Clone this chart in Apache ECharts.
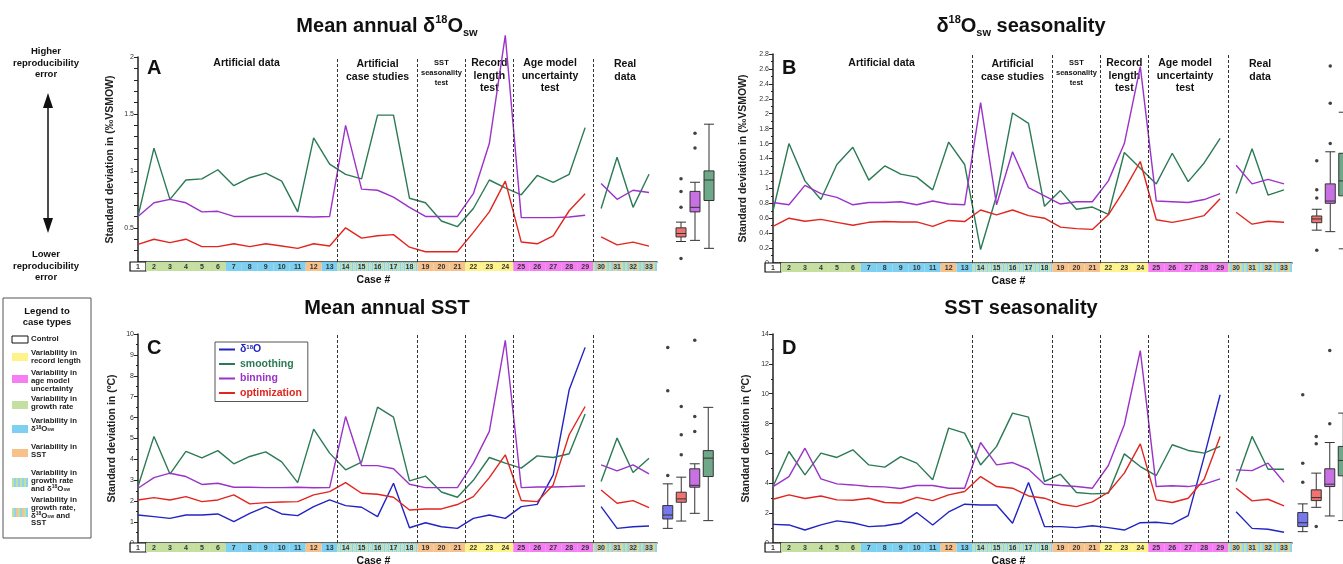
<!DOCTYPE html>
<html>
<head>
<meta charset="utf-8">
<script src="https://cdn.jsdelivr.net/npm/echarts@6/dist/echarts.min.js"></script>
<style>
  html, body { margin: 0; background: #fff; }
  #chart { width: 1343px; height: 564px; }
</style>
</head>
<body>
<div id="chart"></div>
<script>
// ---- data ----
const cases = [1,2,3,4,5,6,7,8,9,10,11,12,13,14,15,16,17,18,19,20,21,22,23,24,25,26,27,28,29,30,31,32,33];
// c control, g growth rate, b d18Osw, s SST, y record length, p age model, gb / gbs mixes
const caseTypes = ['c','g','g','g','g','g','b','b','b','b','b','s','b','gb','gb','gb','gb','gb','s','s','s','y','y','y','p','p','p','p','p','gbs','gbs','gbs','gbs'];
const dividers = [13.5, 18.5, 21.5, 24.5, 29.5];

// A: mean annual d18Osw
const aSmoothing = [0.60,1.20,0.75,0.92,0.93,1.01,0.87,0.94,0.98,0.91,0.64,1.29,1.06,0.97,0.93,1.49,1.49,0.76,0.72,0.56,0.51,0.67,0.92,0.85,0.79,0.96,0.90,0.97,1.38,0.67,1.12,0.68,0.97];
const aBinning = [0.60,0.72,0.75,0.72,0.64,0.645,0.60,0.60,0.60,0.60,0.60,0.595,0.60,1.40,0.84,0.83,0.77,0.68,0.60,0.60,0.60,0.80,1.24,2.19,0.59,0.59,0.59,0.595,0.61,0.89,0.75,0.83,0.81];
const aOptimization = [0.355,0.40,0.37,0.40,0.335,0.335,0.36,0.335,0.36,0.34,0.32,0.36,0.34,0.50,0.41,0.43,0.44,0.33,0.29,0.29,0.29,0.46,0.64,0.91,0.375,0.36,0.43,0.65,0.80,0.42,0.35,0.375,0.34];
// boxes: [low, q1, median, q3, high] in order optimization, binning, smoothing
const aBoxes = [[0.38,0.42,0.45,0.50,0.55],[0.39,0.64,0.68,0.82,0.90],[0.32,0.74,0.92,1.00,1.41]];
const aOutliers = [[0.93,0.82,0.68,0.23],[2.09,1.33,1.20],[]];

// B: d18Osw seasonality
const bSmoothing = [0.70,1.60,1.10,0.85,1.32,1.55,1.11,1.30,1.19,1.15,0.98,1.62,1.32,0.18,0.90,2.01,1.87,0.76,0.97,0.72,0.75,0.65,1.48,1.27,1.06,1.47,1.09,1.34,1.67,0.93,1.53,0.91,0.98];
const bBinning = [0.81,0.78,1.04,0.93,0.88,0.78,0.81,0.81,0.82,0.78,0.83,0.79,0.78,2.15,0.78,1.49,1.01,0.90,0.79,0.82,0.82,1.10,1.60,2.63,0.83,0.82,0.81,0.85,0.93,1.31,1.06,1.12,1.06];
const bOptimization = [0.49,0.60,0.56,0.585,0.545,0.505,0.545,0.555,0.55,0.55,0.49,0.57,0.555,0.71,0.645,0.71,0.635,0.60,0.48,0.46,0.45,0.645,0.98,1.36,0.58,0.545,0.585,0.635,0.86,0.68,0.52,0.56,0.545];
const bBoxes = [[0.44,0.54,0.59,0.63,0.72],[0.42,0.80,0.83,1.06,1.49],[0.19,0.90,1.10,1.47,2.02]];
const bOutliers = [[1.37,0.98,0.87,0.17],[2.64,2.14,1.60],[]];

// C: mean annual SST
const cD18O = [1.34,1.26,1.18,1.34,1.34,1.39,1.02,1.42,1.74,1.39,1.31,1.74,2.06,1.79,1.71,1.26,2.86,0.73,0.97,0.78,0.70,1.18,1.34,1.18,1.74,1.85,3.26,7.33,9.36,1.74,0.70,0.78,0.81];
const cSmoothing = [2.70,5.10,3.30,4.38,4.07,4.42,3.79,4.14,4.36,3.88,2.89,5.45,4.30,3.50,3.87,6.50,6.02,2.97,3.20,2.44,2.19,3.00,4.09,3.82,3.58,4.17,4.09,4.27,6.17,2.94,5.02,3.37,4.06];
const cBinning = [2.62,3.13,3.34,3.18,2.80,2.86,2.67,2.67,2.65,2.65,2.67,2.64,2.65,6.05,3.70,3.70,3.55,2.81,2.65,2.65,2.65,3.82,5.34,9.70,2.65,2.68,2.68,2.70,2.73,3.74,3.45,3.74,3.31];
const cOptimization = [2.06,2.17,2.06,2.22,1.98,2.06,2.30,1.87,1.93,1.96,1.98,2.30,2.46,2.89,2.38,2.33,2.19,1.58,1.63,1.63,1.84,2.22,3.13,4.22,2.03,1.98,2.78,5.18,6.53,2.54,1.90,2.03,1.69];
// order d18O, optimization, binning, smoothing
const cBoxes = [[0.70,1.15,1.34,1.79,2.83],[1.05,1.95,2.11,2.43,3.15],[1.42,2.67,2.76,3.55,3.79],[1.07,3.18,4.06,4.42,6.49]];
const cOutliers = [[3.23,7.28,9.36],[4.22,5.18,6.53],[5.34,6.05,9.70],[]];

// D: SST seasonality
const dD18O = [1.25,1.21,0.87,1.21,1.48,1.36,1.10,1.16,1.32,2.04,1.21,2.08,2.60,2.55,2.55,1.32,4.05,1.10,1.10,1.03,1.16,1.03,0.87,1.36,1.39,1.28,1.83,5.79,9.93,2.10,0.98,0.92,0.72];
const dSmoothing = [3.78,6.13,4.56,6.02,5.73,6.24,5.23,5.08,5.79,5.35,4.23,7.70,7.36,5.23,6.47,8.70,8.43,4.12,4.61,3.38,3.29,3.33,5.97,5.12,4.52,6.58,6.20,6.02,6.47,4.12,7.14,4.94,4.94];
const dBinning = [3.78,4.45,6.35,4.30,3.96,3.89,3.78,3.76,3.65,3.85,3.85,3.67,3.67,6.73,5.23,5.39,4.94,3.94,3.85,3.78,3.67,5.19,7.92,12.89,3.78,3.83,3.78,3.94,4.30,4.90,4.85,5.35,4.07];
const dOptimization = [2.93,3.22,2.98,3.15,2.89,2.86,3.00,2.71,2.68,3.06,2.84,3.22,3.45,4.45,3.78,3.67,3.15,3.00,2.60,2.44,2.75,3.40,4.68,6.64,2.89,2.71,3.00,4.27,7.14,3.67,2.82,2.93,2.48];
const dBoxes = [[0.76,1.10,1.36,2.04,2.62],[2.39,2.84,3.04,3.56,4.68],[1.81,3.78,3.94,4.97,6.73],[1.50,4.50,5.53,6.47,8.70]];
const dOutliers = [[4.07,5.35,9.93],[6.64,7.14,1.10],[7.99,12.89],[]];

// ---- styles ----
const FONT = "'Liberation Sans', Arial, sans-serif";
const COLORS = { d18O: '#2323c4', smoothing: '#2b7a55', binning: '#9b32c9', optimization: '#e1251f' };
const BOX_COLORS = { d18O: '#7777ee', smoothing: '#6ea888', binning: '#c871e3', optimization: '#f07272' };
const NAMES = { d18O: 'δ18O', smoothing: 'smoothing', binning: 'binning', optimization: 'optimization' };
const STRIP_FILL = {
  c: '#ffffff', g: '#c4df9f', b: '#7ed0f0', s: '#f7c18c', y: '#fdf38a', p: '#f47ef2',
  gb: ['#bfe0a2', '#8fd4ee'], gbs: ['#c4df9f', '#8fd4ee', '#f7c18c']
};
const PLOT_W = 519;
const X_MAX = 33.5;
const UNIT = PLOT_W / (X_MAX - 1);

const panels = [
  { left: 138, top: 57, height: 205, min: 0.2, max: 2, interval: 0.1, labelEvery: 0.5, minor: 0,
    yName: 'Standard deviation in (‰VSMOW)', nameGap: 22,
    lines: { smoothing: aSmoothing, binning: aBinning, optimization: aOptimization },
    boxOrder: ['optimization', 'binning', 'smoothing'], boxes: aBoxes, outliers: aOutliers, boxLeft: 674, boxW: 42 },
  { left: 773, top: 54, height: 209, min: 0, max: 2.8, interval: 0.2, labelEvery: 0.2, minor: 2,
    yName: 'Standard deviation in (‰VSMOW)', nameGap: 24,
    lines: { smoothing: bSmoothing, binning: bBinning, optimization: bOptimization },
    boxOrder: ['optimization', 'binning', 'smoothing'], boxes: bBoxes, outliers: bOutliers, boxLeft: 1310, boxW: 40.5 },
  { left: 138, top: 334, height: 209, min: 0, max: 10, interval: 1, labelEvery: 1, minor: 2,
    yName: 'Standard deviation in (ºC)', nameGap: 20,
    lines: { d18O: cD18O, smoothing: cSmoothing, binning: cBinning, optimization: cOptimization },
    boxOrder: ['d18O', 'optimization', 'binning', 'smoothing'], boxes: cBoxes, outliers: cOutliers, boxLeft: 661, boxW: 54 },
  { left: 773, top: 334, height: 209, min: 0, max: 14, interval: 2, labelEvery: 2, minor: 2,
    yName: 'Standard deviation in (ºC)', nameGap: 21,
    lines: { d18O: dD18O, smoothing: dSmoothing, binning: dBinning, optimization: dOptimization },
    boxOrder: ['d18O', 'optimization', 'binning', 'smoothing'], boxes: dBoxes, outliers: dOutliers, boxLeft: 1296, boxW: 54 }
];

// gap between case 29 and the real data cases
const toPoints = vals => {
  const pts = vals.map((v, k) => [cases[k], v]);
  pts.splice(29, 0, [29.5, null]);
  return pts;
};

function renderStrip(params, api) {
  const c = api.value(0);
  const type = caseTypes[params.dataIndex];
  const a = api.coord([c - 0.5, 1]);
  const b = api.coord([c + 0.5, 0]);
  const x = a[0], y = a[1], w = b[0] - a[0], h = b[1] - a[1];
  const fill = STRIP_FILL[type];
  const children = [];
  if (Array.isArray(fill)) {
    for (let sx = 0, k = 0; sx < w; sx += 2, k++) {
      children.push({ type: 'rect', shape: { x: x + sx, y: y, width: Math.min(2, w - sx), height: h }, style: { fill: fill[k % fill.length] } });
    }
  } else {
    children.push({ type: 'rect', shape: { x: x, y: y, width: w, height: h },
      style: { fill: fill, stroke: type === 'c' ? '#111' : null, lineWidth: 1.2 } });
  }
  children.push({ type: 'text', x: x + w / 2, y: y + h / 2 + 0.5,
    style: { text: String(c), fill: '#333', fontSize: 7, fontWeight: 'bold', fontFamily: FONT, align: 'center', verticalAlign: 'middle' } });
  return { type: 'group', children: children };
}

const grid = [], xAxis = [], yAxis = [], series = [];
panels.forEach((p, i) => {
  const g = i * 3;
  grid.push({ left: p.left, top: p.top, width: PLOT_W, height: p.height, outerBoundsMode: 'none' });
  grid.push({ left: p.left, top: p.top + p.height, width: PLOT_W, height: 9, outerBoundsMode: 'none' });
  grid.push({ left: p.boxLeft, top: p.top, width: p.boxW, height: p.height, outerBoundsMode: 'none' });

  xAxis.push({ gridIndex: g, type: 'value', min: 1, max: X_MAX,
    axisLine: { lineStyle: { color: '#333', width: 1.5 } }, axisTick: { show: false }, axisLabel: { show: false }, splitLine: { show: false } });
  xAxis.push({ gridIndex: g + 1, type: 'value', min: 1, max: X_MAX, show: false });
  xAxis.push({ gridIndex: g + 2, type: 'category', data: p.boxOrder, show: false });

  yAxis.push({ gridIndex: g, type: 'value', min: p.min, max: p.max, interval: p.interval,
    axisLine: { show: true, lineStyle: { color: '#222', width: 1.5 } },
    axisTick: { show: true, length: 4, lineStyle: { color: '#222' } },
    minorTick: { show: p.minor > 0, splitNumber: p.minor, length: 2, lineStyle: { color: '#222' } },
    splitLine: { show: false },
    axisLabel: { fontSize: 7, color: '#333', fontFamily: FONT, margin: 4,
      formatter: v => {
        const r = v / p.labelEvery;
        return Math.abs(r - Math.round(r)) < 1e-6 ? String(+v.toFixed(1)) : '';
      } },
    name: p.yName, nameLocation: 'middle', nameGap: p.nameGap,
    nameTextStyle: { fontSize: 10.5, fontWeight: 'bold', color: '#222', fontFamily: FONT } });
  yAxis.push({ gridIndex: g + 1, type: 'value', min: 0, max: 1, show: false });
  yAxis.push({ gridIndex: g + 2, type: 'value', min: p.min, max: p.max, show: false });

  Object.keys(p.lines).forEach((key, k) => {
    const s = {
      type: 'line', name: NAMES[key], xAxisIndex: g, yAxisIndex: g,
      data: toPoints(p.lines[key]), symbol: 'none', clip: false, connectNulls: false,
      color: COLORS[key], lineStyle: { color: COLORS[key], width: 1.4 }, silent: true, z: 3
    };
    if (k === 0) {
      s.markLine = { silent: true, symbol: ['none', 'none'], label: { show: false },
        lineStyle: { type: [3, 2], color: '#333', width: 1 },
        data: dividers.map(d => ({ xAxis: d })) };
    }
    series.push(s);
  });

  series.push({ type: 'custom', xAxisIndex: g + 1, yAxisIndex: g + 1, clip: false, silent: true,
    data: cases.map(c => [c, 0]), renderItem: renderStrip, z: 1 });

  series.push({ type: 'boxplot', xAxisIndex: g + 2, yAxisIndex: g + 2, boxWidth: [10, 10], silent: true,
    data: p.boxOrder.map((key, j) => ({ value: p.boxes[j],
      itemStyle: { color: BOX_COLORS[key], borderColor: '#333', borderWidth: 1 } })) });

  const pts = [];
  p.outliers.forEach((list, j) => list.forEach(v => pts.push([j, v])));
  series.push({ type: 'scatter', xAxisIndex: g + 2, yAxisIndex: g + 2, symbolSize: 3.5, silent: true,
    itemStyle: { color: '#111' }, data: pts });
});

// ---- annotations ----
const txt = (x, y, text, size, extra) => ({
  type: 'text', x: x, y: y, silent: true,
  style: Object.assign({ text: text, fontSize: size, fontWeight: 'bold', fontFamily: FONT, fill: '#111',
    align: 'center', verticalAlign: 'top' }, extra || {})
});
const caseX = (p, c) => p.left + (c - 1) * UNIT;

const graphics = [];
['A', 'B', 'C', 'D'].forEach((l, i) => {
  const p = panels[i];
  graphics.push(txt(p.left + 9, i < 2 ? 58 : 338, l, 20, { align: 'left' }));
  graphics.push(txt(caseX(p, 16.5) - 12, p.top + p.height + 13, 'Case #', 10.5));
});
[panels[0], panels[1]].forEach(p => {
  graphics.push(txt(caseX(p, 7.8), 58, 'Artificial data', 10.5));
  graphics.push(txt(caseX(p, 16), 58, 'Artificial\ncase studies', 10.5, { lineHeight: 12.5 }));
  graphics.push(txt(caseX(p, 20), 58, 'SST\nseasonality\ntest', 7.5, { lineHeight: 10 }));
  graphics.push(txt(caseX(p, 23), 57, 'Record\nlength\ntest', 10.5, { lineHeight: 12.5 }));
  graphics.push(txt(caseX(p, 26.8), 57, 'Age model\nuncertainty\ntest', 10.5, { lineHeight: 12.5 }));
  graphics.push(txt(caseX(p, 31.5), 58, 'Real\ndata', 10.5, { lineHeight: 12.5 }));
});

// reproducibility arrow
graphics.push(txt(46, 46, 'Higher\nreproducibility\nerror', 9.5, { lineHeight: 11.5 }));
graphics.push(txt(46, 249, 'Lower\nreproducibility\nerror', 9.5, { lineHeight: 11.5 }));
graphics.push({ type: 'line', silent: true, shape: { x1: 48, y1: 104, x2: 48, y2: 222 }, style: { stroke: '#111', lineWidth: 1.5 } });
graphics.push({ type: 'polygon', silent: true, shape: { points: [[48, 93], [43, 108], [53, 108]] }, style: { fill: '#111' } });
graphics.push({ type: 'polygon', silent: true, shape: { points: [[48, 233], [43, 218], [53, 218]] }, style: { fill: '#111' } });

// legend to case types
const swatch = (y, h, fill, stroke) => {
  if (Array.isArray(fill)) {
    const out = [];
    for (let sx = 0, k = 0; sx < 16; sx += 2, k++) {
      out.push({ type: 'rect', silent: true, shape: { x: 12 + sx, y: y, width: 2, height: h }, style: { fill: fill[k % fill.length] } });
    }
    return out;
  }
  return [{ type: 'rect', silent: true, shape: { x: 12, y: y, width: 16, height: h }, style: { fill: fill, stroke: stroke || null, lineWidth: 1 } }];
};
const LEG_FS = 7.8;
const smallRich = {
  n: { fontSize: LEG_FS, fontWeight: 'bold', fontFamily: FONT, fill: '#222' },
  u: { fontSize: 5, fontWeight: 'bold', fontFamily: FONT, fill: '#222', verticalAlign: 'top' },
  w: { fontSize: 5, fontWeight: 'bold', fontFamily: FONT, fill: '#222', verticalAlign: 'bottom' }
};
const legText = (y, text) => txt(31, y, text, LEG_FS, { align: 'left', lineHeight: 7.8, fill: '#222', rich: smallRich });
graphics.push({ type: 'rect', silent: true, shape: { x: 3, y: 298, width: 88, height: 240 }, style: { fill: '#fff', stroke: '#555', lineWidth: 1 } });
graphics.push(txt(47, 306, 'Legend to\ncase types', 9.5, { lineHeight: 11 }));
graphics.push(...swatch(336, 7, '#fff', '#111'));
graphics.push(legText(335, 'Control'));
graphics.push(...swatch(353, 8, STRIP_FILL.y));
graphics.push(legText(349, 'Variability in\nrecord length'));
graphics.push(...swatch(375, 8, STRIP_FILL.p));
graphics.push(legText(369, 'Variability in\nage model\nuncertainty'));
graphics.push(...swatch(401, 8, STRIP_FILL.g));
graphics.push(legText(395, 'Variability in\ngrowth rate'));
graphics.push(...swatch(425, 8, STRIP_FILL.b));
graphics.push(legText(417, 'Variability in\n{n|δ}{u|18}{n|O}{w|sw}'));
graphics.push(...swatch(449, 8, STRIP_FILL.s));
graphics.push(legText(443, 'Variability in\nSST'));
graphics.push(...swatch(478, 9, STRIP_FILL.gb));
graphics.push(legText(469, 'Variability in\ngrowth rate\n{n|and δ}{u|18}{n|O}{w|sw}'));
graphics.push(...swatch(508, 9, STRIP_FILL.gbs));
graphics.push(legText(496, 'Variability in\ngrowth rate,\n{n|δ}{u|18}{n|O}{w|sw}{n| and}\nSST'));

const titleRich = {
  t: { fontSize: 20, fontWeight: 'bold', fontFamily: FONT, color: '#111', lineHeight: 24 },
  sup: { fontSize: 11, fontWeight: 'bold', fontFamily: FONT, color: '#111', verticalAlign: 'top', lineHeight: 24 },
  sub: { fontSize: 11, fontWeight: 'bold', fontFamily: FONT, color: '#111', verticalAlign: 'bottom', lineHeight: 24 }
};
const mkTitle = (text, left, top) => ({ text: text, left: left, top: top, textAlign: 'center', padding: 0,
  textStyle: { rich: titleRich, fontSize: 20, fontWeight: 'bold', fontFamily: FONT, color: '#111' } });

const option = {
  animation: false,
  backgroundColor: '#fff',
  title: [
    mkTitle('{t|Mean annual δ}{sup|18}{t|O}{sub|sw}', 387, 14),
    mkTitle('{t|δ}{sup|18}{t|O}{sub|sw}{t| seasonality}', 1021, 14),
    mkTitle('{t|Mean annual SST}', 387, 296),
    mkTitle('{t|SST seasonality}', 1021, 296)
  ],
  legend: {
    left: 215, top: 342, orient: 'vertical', selectedMode: false,
    icon: 'rect', itemWidth: 16, itemHeight: 2, itemGap: 3.5,
    borderColor: '#555', borderWidth: 1, padding: [2, 6, 3, 4], backgroundColor: '#fff',
    textStyle: { fontSize: 10.5, fontWeight: 'bold', fontFamily: FONT,
      rich: {
        d: { fontSize: 10.5, fontWeight: 'bold', fontFamily: FONT, color: COLORS.d18O },
        s: { fontSize: 6, fontWeight: 'bold', fontFamily: FONT, color: COLORS.d18O, verticalAlign: 'top' }
      } },
    formatter: n => (n === 'δ18O' ? '{d|δ}{s|18}{d|O}' : n),
    data: ['d18O', 'smoothing', 'binning', 'optimization'].map(k => ({ name: NAMES[k], textStyle: { color: COLORS[k] } }))
  },
  grid: grid,
  xAxis: xAxis,
  yAxis: yAxis,
  series: series,
  graphic: graphics
};

const chart = echarts.init(document.getElementById('chart'));
chart.setOption(option);
window.addEventListener('resize', () => chart.resize());
</script>
</body>
</html>
